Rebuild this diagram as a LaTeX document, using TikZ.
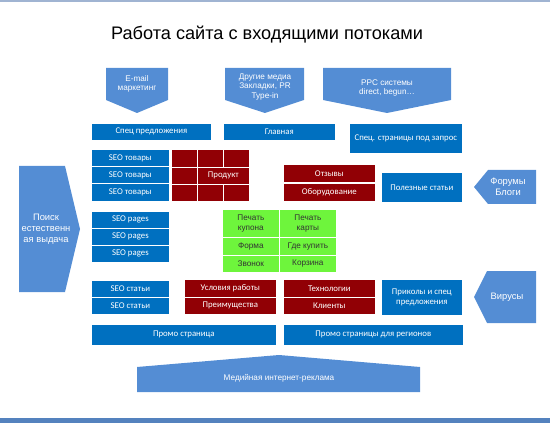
\documentclass[tikz,border=0pt]{standalone}
\usepackage{fontspec}
\setmainfont{Carlito}
\newfontfamily\arialfont{Liberation Sans}
\definecolor{boxblue}{RGB}{0,112,192}
\definecolor{flowblue}{RGB}{84,141,212}
\definecolor{darkred}{RGB}{145,0,5}
\definecolor{lightgrn}{RGB}{110,245,60}
\definecolor{topline}{RGB}{160,180,210}
\definecolor{botline}{RGB}{84,130,190}
\tikzset{
  blk/.style={fill=boxblue,draw=white,line width=0.6pt,text=white,align=center,
              inner sep=1pt,anchor=north west,font=\fontsize{7.5}{8.5}\selectfont},
  wh/.style args={#1x#2}{minimum width=#1*0.3mm,minimum height=#2*0.3mm},
  redblk/.style={blk,fill=darkred},
  grnblk/.style={blk,fill=lightgrn,text=black!80,font=\arialfont\fontsize{7}{8}\selectfont},
  flow/.style={fill=flowblue},
  flowtxt/.style={text=white,align=center,font=\arialfont\fontsize{7}{8}\selectfont},
  bigtxt/.style={flowtxt,font=\arialfont\fontsize{8}{9.5}\selectfont},
}
\begin{document}
\begin{tikzpicture}[x=0.3mm,y=-0.3mm]
  \useasboundingbox (0,0) rectangle (550,423);
  \fill[topline] (0,0) rectangle (550,2.5);
  \fill[botline] (0,418) rectangle (550,423);
  \node[font=\arialfont\fontsize{15.5}{18}\selectfont] (title) at (267,35)
    {Работа сайта с входящими потоками};

  % incoming flows, top
  \fill[flow] (106,68) -- (168,68) -- (168,100) -- (137,113) -- (106,100) -- cycle;
  \node[flowtxt] (email) at (137,84) {E-mail\\маркетинг};
  \fill[flow] (225,68) -- (304,68) -- (304,100) -- (265,113) -- (225,100) -- cycle;
  \node[flowtxt] (media) at (265,87) {Другие медиа\\Закладки, PR\\Type-in};
  \fill[flow] (323,68) -- (451,68) -- (451,100) -- (387,113) -- (323,100) -- cycle;
  \node[flowtxt] (ppc) at (387,88) {PPC системы\\direct, begun\dots};

  % incoming flows, sides and bottom
  \fill[flow] (19,166) -- (65,166) -- (80,229) -- (65,292) -- (19,292) -- cycle;
  \node[bigtxt] (seo) at (46,229) {Поиск\\естественн\\ая выдача};
  \fill[flow] (474,187) -- (488,170) -- (536,170) -- (536,204) -- (488,204) -- cycle;
  \node[bigtxt] (forum) at (508,187) {Форумы\\Блоги};
  \fill[flow] (474,297) -- (487,271) -- (536,271) -- (536,323) -- (487,323) -- cycle;
  \node[bigtxt] (viral) at (507,297) {Вирусы};
  \fill[flow] (137,392) -- (137,367) -- (279,355) -- (420,367) -- (420,392) -- cycle;
  \node[flowtxt] (banner) at (279,378) {Медийная интернет-реклама};

  % site pages
  \node[blk,wh=120x17] (spec) at (91,123) {Спец предложения};
  \node[blk,wh=112x17] (main) at (223,123) {Главная};
  \node[blk,wh=113x30] (query) at (349,123) {Спец. страницы под запрос};
  \foreach \y [count=\i] in {149,166,183} {
    \node[blk,wh=78x18] (goods\i) at (91,\y) {SEO товары};
  }
  \foreach \y [count=\i] in {211,228,245} {
    \node[blk,wh=78x17] (pages\i) at (91,\y) {SEO pages};
  }
  \foreach \y [count=\i] in {280,297} {
    \node[blk,wh=78x17] (art\i) at (91,\y) {SEO статьи};
  }

  % product grid
  \foreach \x [count=\i] in {171,197,223} {
    \node[redblk,wh=26x18] (prodA\i) at (\x,149) {};
    \node[redblk,wh=26x17] (prodC\i) at (\x,184) {};
  }
  \node[redblk,wh=26x17] (prodB1) at (171,167) {};
  \node[redblk,wh=52x17] (prod) at (197,167) {Продукт};

  \node[redblk,wh=92x18] (reviews) at (283,164) {Отзывы};
  \node[redblk,wh=92x18] (equip) at (283,183) {Оборудование};
  \node[blk,wh=81x30] (useful) at (381,172) {Полезные статьи};

  % conversion grid
  \node[grnblk,wh=57x28] (coupon) at (222,209) {Печать\\купона};
  \node[grnblk,wh=57x28] (card) at (279,209) {Печать\\карты};
  \node[grnblk,wh=57x18] (form) at (222,237) {Форма};
  \node[grnblk,wh=57x18] (where) at (279,237) {Где купить};
  \node[grnblk,wh=57x17] (call) at (222,255) {Звонок};
  \node[grnblk,wh=57x17] (cart) at (279,255) {Корзина};

  \node[redblk,wh=92x18] (terms) at (184,279) {Условия работы};
  \node[redblk,wh=92x17] (adv) at (184,297) {Преимущества};
  \node[redblk,wh=92x18] (tech) at (283,279) {Технологии};
  \node[redblk,wh=92x17] (clients) at (283,297) {Клиенты};
  \node[blk,wh=81x36] (fun) at (381,279) {Приколы и спец\\предложения};

  \node[blk,wh=185x21] (promo) at (91,324) {Промо страница};
  \node[blk,wh=180x21] (regions) at (283,324) {Промо страницы для регионов};
\end{tikzpicture}
\end{document}
